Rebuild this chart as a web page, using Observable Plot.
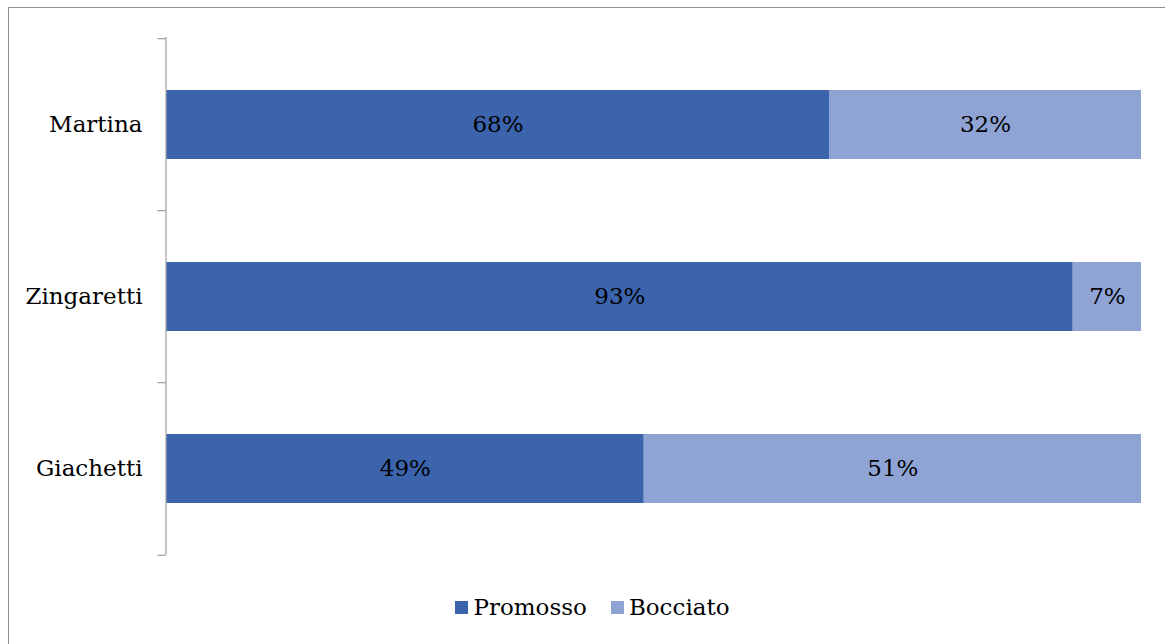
<!DOCTYPE html>
<html>
<head>
<meta charset="utf-8">
<script src="https://cdn.jsdelivr.net/npm/d3@7"></script>
<script src="https://cdn.jsdelivr.net/npm/@observablehq/plot@0.6"></script>
<style>
  html, body { margin: 0; padding: 0; background: #fff; width: 1165px; height: 644px; overflow: hidden; }
  #frame { position: absolute; left: 8px; top: 7px; width: 1200px; height: 700px; border: 1px solid #8c8c8c; box-sizing: border-box; }
  #chart { position: absolute; left: 0; top: 0; }
  #legend { position: absolute; left: 10px; top: 594px; width: 1165px; display: flex; justify-content: center; font-family: "DejaVu Serif", serif; font-size: 23px; color: #000; }
  .item { display: flex; align-items: center; margin: 0 12px; }
  .sw { width: 13px; height: 13px; margin-right: 5px; }
</style>
</head>
<body>
<div id="frame"></div>
<div id="chart"></div>
<div id="legend"></div>
<script>
const candidates = ["Martina", "Zingaretti", "Giachetti"];
const series = ["Promosso", "Bocciato"];
const promosso = [68, 93, 49];
const bocciato = [32, 7, 51];
const colors = ["#3b64ad", "#8fa3d4"];

const data = [
  ...candidates.map((c, i) => ({name: c, status: series[0], value: promosso[i]})),
  ...candidates.map((c, i) => ({name: c, status: series[1], value: bocciato[i]}))
];

const W = 1165, H = 580, mT = 37, mB = 25, mL = 166, mR = 24;
const step = (H - mT - mB) / candidates.length;
const tickLen = 8 * 100 / (W - mL - mR);

const chart = Plot.plot({
  width: W,
  height: H,
  marginTop: mT,
  marginBottom: mB,
  marginLeft: mL,
  marginRight: mR,
  style: {fontFamily: "DejaVu Serif, serif", fontSize: "23px", color: "#000", background: "transparent"},
  x: {domain: [0, 100], axis: null},
  y: {domain: candidates, paddingInner: 0.6, paddingOuter: 0.3, label: null},
  color: {domain: series, range: colors},
  marks: [
    Plot.barX(data, Plot.stackX({x: "value", y: "name", fill: "status", order: null})),
    Plot.text(data, Plot.stackX({x: "value", y: "name", z: "status", order: null, text: d => d.value + "%", fill: "#000", fontSize: 23})),
    Plot.axisY({tickSize: 0, tickPadding: 24, fontSize: 23, fill: "#000"}),
    Plot.ruleX([0], {stroke: "#a6a6a6", strokeWidth: 1.3, dx: -0.5}),
    Plot.ruleY(candidates, {y: d => d, x1: -tickLen, x2: 0, dy: -step / 2, stroke: "#a6a6a6", strokeWidth: 1.3, dx: -0.5}),
    Plot.ruleY(candidates.slice(-1), {y: d => d, x1: -tickLen, x2: 0, dy: step / 2, stroke: "#a6a6a6", strokeWidth: 1.3, dx: -0.5})
  ]
});
document.getElementById("chart").appendChild(chart);

const legend = document.getElementById("legend");
series.forEach((s, i) => {
  const it = document.createElement("div");
  it.className = "item";
  const sw = document.createElement("div");
  sw.className = "sw";
  sw.style.background = colors[i];
  const t = document.createElement("span");
  t.textContent = s;
  it.appendChild(sw);
  it.appendChild(t);
  legend.appendChild(it);
});
</script>
</body>
</html>
